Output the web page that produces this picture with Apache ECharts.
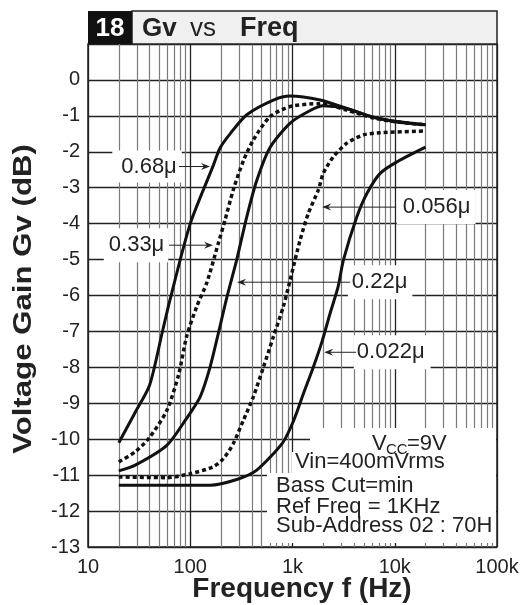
<!DOCTYPE html>
<html>
<head>
<meta charset="utf-8">
<script src="https://cdn.jsdelivr.net/npm/echarts@6/dist/echarts.min.js"></script>
<style>
  html, body { margin: 0; padding: 0; background: #fff; }
  #chart { width: 528px; height: 605px; }
</style>
</head>
<body>
<div id="chart"></div>
<script>
// values: frequency (Hz) and gain (dB) for each capacitor
const freq068 = [20, 29, 40, 53, 63, 100, 167, 195, 245, 357, 650, 950, 1860, 3400, 6200, 10500, 20000];
const gain068 = [-10.1, -9.25, -8.5, -7.05, -6.15, -4.0, -2.4, -1.9, -1.5, -0.97, -0.56, -0.45, -0.56, -0.79, -1.04, -1.16, -1.25];

const freq033 = [20, 29, 40, 59, 77, 92, 116, 145, 188, 219, 264, 331, 414, 603, 950, 1860, 3400, 6200, 10500, 20000];
const gain033 = [-10.63, -10.35, -9.95, -9.2, -8.2, -7.15, -6.3, -5.65, -4.55, -3.9, -3.05, -2.25, -1.67, -1.02, -0.74, -0.66, -0.84, -1.06, -1.17, -1.25];

const freq022 = [20, 29, 59, 92, 125, 156, 188, 228, 285, 357, 447, 603, 950, 1490, 2000, 3400, 6200, 10500, 20000];
const gain022 = [-10.88, -10.72, -10.17, -9.42, -8.82, -8.0, -7.06, -6.05, -5.0, -3.81, -2.8, -1.88, -1.2, -0.85, -0.72, -0.8, -1.04, -1.17, -1.25];

const freq0056 = [20, 59, 100, 167, 211, 264, 331, 414, 519, 650, 815, 948, 1186, 1430, 1790, 2000, 2510, 3400, 4940, 7200, 20000];
const gain0056 = [-11.05, -11.07, -10.96, -10.77, -10.54, -10.12, -9.47, -8.82, -8.0, -7.15, -6.3, -5.57, -4.46, -3.71, -3.06, -2.6, -2.14, -1.76, -1.53, -1.47, -1.42];

const freq0022 = [20, 156, 285, 447, 800, 1020, 1280, 1600, 1940, 2330, 2790, 3150, 4260, 5340, 7200, 10500, 20000];
const gain0022 = [-11.28, -11.28, -11.12, -10.86, -10.1, -9.5, -8.73, -7.99, -7.29, -6.5, -5.76, -5.01, -3.81, -3.16, -2.6, -2.28, -1.87];

const capLabels = ['0.68μ', '0.33μ', '0.22μ', '0.056μ', '0.022μ'];
const freqTickLabels = { 10: '10', 100: '100', 1000: '1k', 10000: '10k', 100000: '100k' };
const infoLines = ['Vin=400mVrms', 'Bass Cut=min', 'Ref Freq = 1KHz', 'Sub-Address 02 : 70H'];

// minor vertical grid lines at 2..9 of each decade
const minorFreqs = [];
for (let d = 10; d < 100000; d *= 10) {
    for (let k = 2; k <= 9; k++) minorFreqs.push(k * d);
}

const FONT = '"Liberation Sans", Arial, Helvetica, sans-serif';
const pairs = (xs, ys) => xs.map((x, i) => [x, ys[i]]);

const curve = (name, xs, ys, dotted) => ({
    name: name,
    type: 'line',
    data: pairs(xs, ys),
    smooth: 0.25,
    showSymbol: false,
    z: 5,
    lineStyle: { color: '#111', width: dotted ? 3.5 : 3, type: dotted ? [4, 3] : 'solid', cap: 'butt' }
});

let myChart = echarts.init(document.getElementById('chart'));

let option = {
    animation: false,
    textStyle: { fontFamily: FONT },
    grid: {
        left: 88, right: 31, top: 44, bottom: 58,
        show: true, borderColor: '#222', borderWidth: 1.5, backgroundColor: 'transparent'
    },
    xAxis: {
        type: 'log',
        logBase: 10,
        min: 10,
        max: 100000,
        interval: 1,
        axisLine: { show: false },
        axisTick: { show: false },
        axisLabel: {
            color: '#222', fontSize: 20, margin: 10, fontFamily: FONT,
            formatter: v => freqTickLabels[Math.round(v)] || ''
        },
        splitLine: { show: true, lineStyle: { color: '#222', width: 1.3 } }
    },
    yAxis: {
        type: 'value',
        min: -13,
        max: 1,
        interval: 1,
        axisLine: { show: false },
        axisTick: { show: false },
        axisLabel: {
            color: '#222', fontSize: 20, margin: 8, fontFamily: FONT,
            formatter: v => (v > 0 ? '' : String(v))
        },
        splitLine: { show: true, lineStyle: { color: '#222', width: 1.3 } }
    },
    series: [
        {
            name: 'minor',
            type: 'line',
            data: [],
            z: 1,
            silent: true,
            markLine: {
                silent: true,
                symbol: 'none',
                animation: false,
                label: { show: false },
                lineStyle: { color: '#7a7a7a', width: 1.2, type: 'solid' },
                data: minorFreqs.map(f => ({ xAxis: f }))
            }
        },
        curve('0.68', freq068, gain068, false),
        curve('0.33', freq033, gain033, true),
        curve('0.22', freq022, gain022, false),
        curve('0.056', freq0056, gain0056, true),
        curve('0.022', freq0022, gain0022, false)
    ]
};

myChart.setOption(option);

// label anchors in data space (freq, dB): text centre, arrow tail, arrow tip
const notes = [
    { text: capLabels[0], at: [37.8, -2.41], tail: [77.6, -2.41], tip: [156, -2.41], pad: [5, 5, 5, 9] },
    { text: capLabels[1], at: [29.5, -4.6], tail: [62, -4.6], tip: [167, -4.6], pad: [6, 4, 6, 5] },
    { text: capLabels[2], at: [7190, -5.63], tail: [3660, -5.63], tip: [287, -5.63], pad: [6, 5, 6, 4] },
    { text: capLabels[3], at: [25400, -3.54], tail: [10300, -3.54], tip: [1950, -3.54], pad: [6, 5, 6, 6] },
    { text: capLabels[4], at: [9440, -7.58], tail: [4190, -7.58], tip: [2040, -7.58], pad: [6, 6, 6, 3] }
];

const px = p => myChart.convertToPixel({ gridIndex: 0 }, p);

const arrow = (tail, tip) => {
    const a = px(tail), b = px(tip);
    const dir = b[0] > a[0] ? 1 : -1;
    return [
        { type: 'line', zlevel: 1, z: 6, shape: { x1: a[0], y1: a[1], x2: b[0] - dir * 4, y2: b[1] }, style: { stroke: '#222', lineWidth: 1 } },
        { type: 'polygon', zlevel: 1, z: 6, shape: { points: [[b[0], b[1]], [b[0] - dir * 9, b[1] - 3.5], [b[0] - dir * 6, b[1]], [b[0] - dir * 9, b[1] + 3.5]] }, style: { fill: '#222' } }
    ];
};

let graphics = [];

notes.forEach(n => {
    const c = px(n.at);
    graphics.push({
        type: 'text', zlevel: 1, z: 4, x: c[0], y: c[1],
        style: {
            text: n.text, font: '22px ' + FONT, fill: '#222', align: 'center', verticalAlign: 'middle',
            backgroundColor: '#fff', padding: n.pad
        }
    });
    graphics = graphics.concat(arrow(n.tail, n.tip));
});

// white panel with test conditions, lower right
const txt = (x, y, s, size) => ({
    type: 'text', zlevel: 1, z: 4, x: x, y: y,
    style: { text: s, font: size + 'px ' + FONT, fill: '#222', verticalAlign: 'middle' }
});
graphics.push(
    { type: 'rect', zlevel: 1, z: 3, shape: { x: 310, y: 428, width: 186, height: 26 }, style: { fill: '#fff' } },
    { type: 'rect', zlevel: 1, z: 3, shape: { x: 292, y: 452, width: 204, height: 23 }, style: { fill: '#fff' } },
    { type: 'rect', zlevel: 1, z: 3, shape: { x: 267, y: 473, width: 229, height: 70 }, style: { fill: '#fff' } },
    txt(372, 444, 'V', 22),
    txt(386, 449.5, 'CC', 15),
    txt(407, 444, '=9V', 22),
    txt(295, 462.3, infoLines[0], 22),
    txt(276, 485.6, infoLines[1], 22),
    txt(276, 506.6, infoLines[2], 22),
    txt(276, 525.6, infoLines[3], 22)
);

// title bar
graphics.push(
    { type: 'rect', zlevel: 1, z: 4, shape: { x: 132, y: 11, width: 365, height: 33 }, style: { fill: '#f0f0f0', stroke: '#222', lineWidth: 1.5 } },
    { type: 'rect', zlevel: 1, z: 4, shape: { x: 88, y: 11, width: 44, height: 33 }, style: { fill: '#111' } },
    { type: 'text', zlevel: 1, z: 5, x: 110, y: 28.5, style: { text: '18', font: 'bold 26px ' + FONT, fill: '#fff', align: 'center', verticalAlign: 'middle' } },
    { type: 'text', zlevel: 1, z: 5, x: 142, y: 28.5, style: { text: 'Gv', font: 'bold 26px ' + FONT, fill: '#222', verticalAlign: 'middle' } },
    { type: 'text', zlevel: 1, z: 5, x: 190, y: 28.5, style: { text: 'vs', font: '26px ' + FONT, fill: '#222', verticalAlign: 'middle' } },
    { type: 'text', zlevel: 1, z: 5, x: 240, y: 28.5, style: { text: 'Freq', font: 'bold 27px ' + FONT, fill: '#222', verticalAlign: 'middle' } }
);

// axis names
graphics.push(
    { type: 'text', zlevel: 1, z: 5, x: 24, y: 299, rotation: Math.PI / 2, scaleX: 1.2,
      style: { text: 'Voltage Gain Gv (dB)', font: 'bold 26px ' + FONT, fill: '#222', align: 'center', verticalAlign: 'middle' } },
    { type: 'text', zlevel: 1, z: 5, x: 302, y: 589,
      style: { text: 'Frequency f (Hz)', font: 'bold 28px ' + FONT, fill: '#222', align: 'center', verticalAlign: 'middle' } }
);

myChart.setOption({ graphic: { elements: graphics } });
</script>
</body>
</html>
